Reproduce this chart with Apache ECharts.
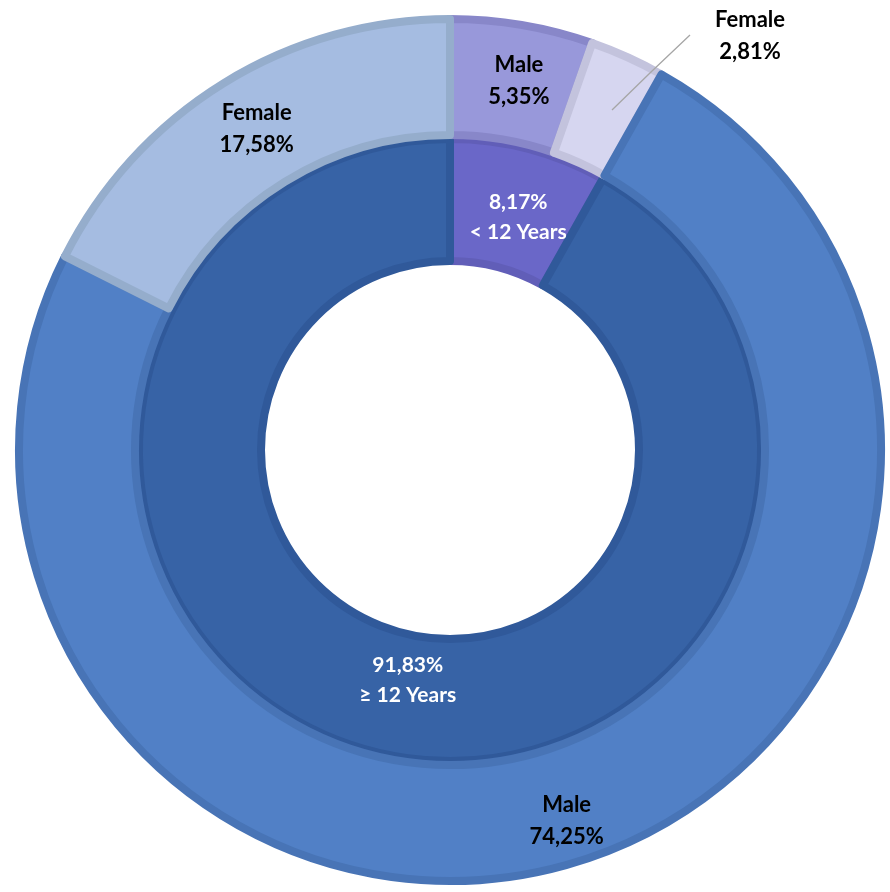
<!DOCTYPE html>
<html>
<head>
<meta charset="utf-8">
<script src="https://cdn.jsdelivr.net/npm/echarts@6/dist/echarts.min.js"></script>
<style>
html,body{margin:0;padding:0;background:#fff;}
#c{width:890px;height:892px;}
</style>
</head>
<body>
<div id="c"></div>
<script>
// Inner ring: age groups
var ageGroups = ['< 12 Years', '≥ 12 Years'];
var ageValues = [8.17, 91.83];
// Outer ring: sex within age groups
var sexLabels = ['Male', 'Female', 'Male', 'Female'];
var sexValues = [5.35, 2.81, 74.25, 17.58];

var innerFill = ['#6A67C8', '#3763A6'];
var innerBorder = ['#615EB8', '#30599A'];
var outerFill = ['#9898DA', '#D6D6F0', '#5180C6', '#A5BCE1'];
var outerBorder = ['#8887C9', '#C3C3DD', '#4874B6', '#95ADCC'];

function pct(v){ return v.toFixed(2).replace('.', ',') + '%'; }

var FONT = 'Lato';
var CX = 450, CY = 450;

var chart = echarts.init(document.getElementById('c'), null, {renderer:'canvas'});

var innerData = ageValues.map(function(v,i){
  return {
    value: v, name: ageGroups[i],
    itemStyle: {color: innerFill[i], borderColor: innerBorder[i], borderWidth: 8},
    label: i === 1 ? {offset: [22, -14]} : {offset: [4, 12]}
  };
});

var outerOffsets = [[6,2],[0,0],[7,11],[4,-1]];
var outerData = sexValues.map(function(v,i){
  return {
    value: v, name: sexLabels[i],
    itemStyle: {color: outerFill[i], borderColor: outerBorder[i], borderWidth: 8},
    label: {offset: outerOffsets[i], show: i !== 1}
  };
});

// overlay copy of outer ring: only carries the outside label + leader line of the small slice
var overlayData = sexValues.map(function(v,i){
  var d = {
    value: v, name: sexLabels[i],
    itemStyle: {color: 'rgba(0,0,0,0)', borderWidth: 0},
    label: {show: false},
    labelLine: {show: false}
  };
  if (i === 1) {
    d.label = {show: true, position: 'outside'};
    d.labelLine = {show: true, lineStyle: {color: '#A6A6A6', width: 1.3}};
  }
  return d;
});

var outerLabel = {
  show: true, position: 'inside', color: '#000000',
  fontFamily: FONT, fontWeight: 'bold', fontSize: 22, lineHeight: 32,
  formatter: function(p){ return p.name + '\n' + pct(p.value); }
};

chart.setOption({
  animation: false,
  series: [
    {
      type: 'pie',
      center: [CX, CY],
      radius: [189, 311],
      startAngle: 90,
      clockwise: true,
      silent: true,
      emphasis: {disabled: true},
      label: {
        show: true, position: 'inside', color: '#FFFFFF',
        fontFamily: FONT, fontWeight: 'bold', fontSize: 21, lineHeight: 30,
        formatter: function(p){ return pct(p.value) + '\n' + p.name; }
      },
      labelLine: {show: false},
      data: innerData
    },
    {
      type: 'pie',
      center: [CX, CY],
      radius: [315, 431],
      startAngle: 90,
      clockwise: true,
      silent: true,
      emphasis: {disabled: true},
      label: outerLabel,
      labelLine: {show: false},
      data: outerData
    },
    {
      type: 'pie',
      z: 10,
      center: [CX, CY],
      radius: [315, 431],
      startAngle: 90,
      clockwise: true,
      silent: true,
      emphasis: {disabled: true},
      label: outerLabel,
      labelLayout: function(params){
        if (params.dataIndex === 1) {
          return {
            x: 750, y: 36, align: 'center', verticalAlign: 'middle',
            labelLinePoints: [[612,110],[651,72],[690,35]]
          };
        }
      },
      data: overlayData
    }
  ]
});
</script>
</body>
</html>
